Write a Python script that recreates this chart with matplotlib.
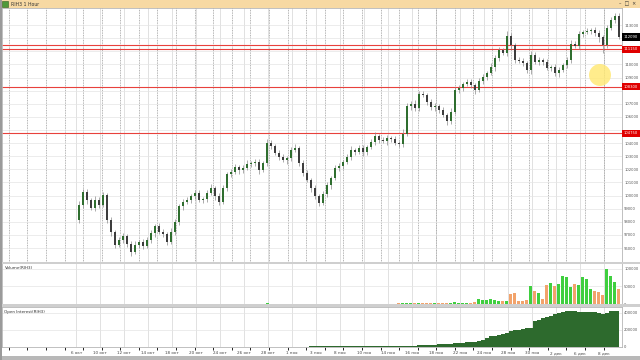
import numpy as np
import matplotlib.pyplot as plt
from matplotlib.ticker import MultipleLocator, FixedLocator
from matplotlib.patches import Rectangle, Ellipse
from matplotlib.transforms import blended_transform_factory

# hourly candles (aggregated)
first_open = 98140
closes = [
    99280, 100270, 99660, 99060, 99660, 99280, 100050, 98140, 97230, 96240,
    96620, 96920, 96310, 95700, 96240, 96460, 96160, 96620, 97150, 97680,
    97230, 97070, 96460, 97230, 97990, 99210, 99510, 99660, 99970, 100200,
    99660, 99740, 100200, 100580, 99970, 99510, 100580, 101650, 101800, 102180,
    101950, 102100, 102410, 102480, 102560, 101950, 102480, 104010, 103780, 103250,
    102940, 102710, 102870, 103480, 103630, 102480, 101720, 101190, 100580, 99970,
    99440, 100120, 100810, 101340, 102100, 102260, 102560, 102940, 103480, 103320,
    103630, 103320, 103700, 104090, 104540, 104240, 104160, 104390, 104310, 104010,
    103930, 104690, 106830, 106980, 106680, 107740, 107670, 107130, 106750, 106830,
    106520, 106140, 105690, 106370, 108050, 108200, 108500, 108660, 108430, 108050,
    108730, 109040, 109340, 109800, 110490, 111100, 110870, 112160, 111480, 110330,
    110260, 110100, 109570, 110710, 110180, 110330, 110180, 109720, 109800, 109340,
    109570, 109950, 110330, 111550, 111400, 112310, 112470, 112540, 112620, 112390,
    112090, 111480, 112770, 113380, 113690, 112090,
]
wick_up = [
    300, 250, 200, 150, 300, 200, 250, 150, 200, 150,
    200, 250, 150, 200, 300, 150, 200, 250, 200, 150,
    250, 200, 150, 300, 200, 150, 250, 200, 150, 200,
    250, 150, 200, 300, 150, 200, 250, 150, 200, 250,
    150, 200, 300, 150, 200, 250, 150, 300, 200, 150,
    200, 250, 150, 200, 300, 150, 200, 250, 150, 200,
    150, 250, 200, 150, 200, 250, 150, 200, 300, 150,
    200, 250, 150, 200, 300, 150, 200, 250, 150, 200,
    150, 350, 250, 200, 300, 250, 200, 150, 200, 250,
    150, 200, 150, 300, 250, 200, 150, 250, 200, 150,
    200, 250, 150, 300, 250, 200, 150, 350, 200, 150,
    250, 200, 150, 300, 200, 250, 150, 200, 150, 250,
    200, 150, 250, 300, 200, 250, 150, 200, 150, 200,
    250, 150, 200, 250, 200, 200,
]
wick_dn = [
    250, 200, 300, 150, 200, 250, 150, 200, 300, 250,
    150, 200, 250, 300, 150, 200, 250, 150, 200, 300,
    150, 250, 200, 150, 250, 200, 300, 150, 200, 250,
    150, 200, 250, 150, 300, 200, 150, 250, 200, 150,
    300, 200, 150, 250, 200, 300, 150, 200, 250, 150,
    200, 150, 300, 250, 150, 200, 250, 150, 300, 200,
    250, 150, 200, 300, 150, 250, 200, 150, 200, 250,
    150, 300, 200, 150, 250, 200, 150, 300, 200, 150,
    250, 200, 150, 300, 200, 250, 150, 200, 250, 300,
    200, 150, 300, 250, 150, 200, 250, 150, 200, 300,
    150, 200, 250, 150, 300, 200, 150, 250, 300, 200,
    150, 250, 200, 300, 150, 200, 250, 150, 200, 250,
    300, 150, 200, 250, 150, 200, 250, 150, 200, 250,
    400, 600, 200, 150, 200, 150,
]
volumes = [
    400, 300, 500, 200, 300, 600, 300, 900, 700, 500,
    400, 300, 500, 800, 400, 300, 500, 400, 300, 600,
    400, 300, 500, 700, 600, 800, 500, 400, 300, 500,
    400, 600, 500, 400, 700, 900, 600, 500, 400, 500,
    600, 500, 400, 700, 600, 500, 800, 1500, 900, 700,
    600, 500, 700, 800, 600, 900, 1000, 800, 900, 1100,
    1400, 1000, 900, 800, 1200, 1000, 900, 1100, 1000, 800,
    900, 1000, 1200, 1100, 1300, 1000, 900, 1100, 1000, 1200,
    1500, 4000, 3500, 2500, 2000, 3000, 2500, 2000, 1800, 2200,
    2500, 2000, 3500, 3000, 5000, 4000, 3000, 3500, 3000, 4500,
    14000, 12000, 10000, 13000, 11000, 9000, 8000, 9000, 28000, 30000,
    9000, 8000, 10000, 50000, 37000, 30000, 14000, 55000, 60000, 52000,
    58000, 80000, 76000, 48000, 58000, 55000, 78000, 70000, 42000, 37000,
    35000, 25000, 100000, 80000, 62000, 42000,
]
open_interest = [
    300, 400, 400, 500, 600, 600, 700, 900, 900, 1000,
    1100, 1100, 1200, 1300, 1300, 1400, 1500, 1500, 1600, 1700,
    1800, 1800, 1900, 2000, 2100, 2100, 2200, 2300, 2400, 2400,
    2500, 2600, 2700, 2800, 2800, 2900, 3000, 3100, 3200, 3300,
    3300, 3400, 3500, 3600, 3700, 3800, 3900, 4200, 4300, 4400,
    4500, 4600, 4700, 4800, 4900, 5000, 5300, 5600, 6000, 6300,
    6500, 6800, 7000, 7300, 7600, 7800, 8000, 8300, 8600, 8800,
    9000, 9300, 9600, 9800, 10000, 10300, 10600, 11000, 11300, 11600,
    12000, 13000, 14000, 15000, 16000, 18000, 20000, 22000, 24000, 27000,
    30000, 32000, 35000, 38000, 42000, 47000, 50000, 53000, 56000, 60000,
    70000, 85000, 110000, 130000, 135000, 141000, 150000, 170000, 188000, 195000,
    200000, 210000, 218000, 224000, 306000, 320000, 340000, 353000, 370000, 390000,
    400000, 410000, 424000, 420000, 418000, 412000, 414000, 410000, 412000, 408000,
    400000, 388000, 405000, 418000, 424000, 422000,
]
levels = [111500, 111150, 108300, 104750]
price_ticks = list(range(96000, 114000, 1000))
date_labels = ["6 окт", "10 окт", "12 окт", "14 окт", "18 окт", "20 окт", "24 окт",
               "26 окт", "28 окт", "1 ноя", "3 ноя", "8 ноя", "10 ноя", "14 ноя",
               "16 ноя", "18 ноя", "22 ноя", "24 ноя", "28 ноя", "30 ноя", "2 дек",
               "6 дек", "8 дек"]
symbol = "RIH3"

opens = [first_open] + closes[:-1]
n = len(closes)
x = np.arange(n)
up = np.array(closes) >= np.array(opens)
highs = [max(o, c) + w for o, c, w in zip(opens, closes, wick_up)]
lows = [min(o, c) - w for o, c, w in zip(opens, closes, wick_dn)]

fig = plt.figure(figsize=(6.4, 3.6), dpi=100)
fig.patch.set_facecolor('white')

ax = fig.add_axes((2/640, 1-262/360, 620/640, 254/360))
ax_v = fig.add_axes((2/640, 1-304/360, 620/640, 41/360), sharex=ax)
ax_oi = fig.add_axes((2/640, 1-347/360, 620/640, 40/360), sharex=ax)

xlim = (-19.3, 135.8)
tick_pos = [-0.75 + 6*k for k in range(len(date_labels))]

for a in (ax, ax_v, ax_oi):
    a.set_facecolor('white')
    for s in a.spines.values():
        s.set_color('#b5b5b5')
        s.set_linewidth(0.6)
    a.yaxis.tick_right()
    a.tick_params(axis='y', length=0, labelsize=2.7, pad=1.5, colors='#555555')
    a.tick_params(axis='x', length=0, labelbottom=False)
    a.xaxis.set_major_locator(FixedLocator(tick_pos))
    a.grid(axis='x', which='major', color='#d4d4d4', lw=0.5)
    a.grid(axis='y', color='#e4e4e4', lw=0.5)
    a.set_axisbelow(True)

# price panel
ax.xaxis.set_minor_locator(MultipleLocator(4.65, offset=1))
ax.grid(axis='x', which='minor', color='#9a9a9a', lw=0.6, ls=(0, (1, 1)))
ax.tick_params(axis='x', which='minor', length=0)
ax.vlines(x, lows, highs, color='#8c8c8c', lw=0.5, zorder=2)
ax.bar(x, np.array(closes) - np.array(opens), bottom=opens, width=0.55,
       color=np.where(up, '#2f6e2f', '#3d3d3d'), zorder=3)
for lv in levels:
    ax.plot(xlim, [lv, lv], color='#e8413c', lw=0.8, zorder=1.5)
ax.set_ylim(94940, 114300)
ax.set_yticks(price_ticks)
# labels hidden behind the level / last-price boxes
covered = {111000, 112000, 108000, 105000}
ax.set_yticklabels(['' if t in covered else str(t) for t in price_ticks])
ax.set_xlim(*xlim)

tr = blended_transform_factory(ax.transAxes, ax.transData)
for lv in levels[1:]:
    ax.text(1.003, lv, str(lv), transform=tr, fontsize=2.7, color='white', va='center',
            ha='left', bbox=dict(boxstyle='square,pad=0.45', fc='#e00000', ec='none'), zorder=5)
ax.text(1.003, closes[-1], str(closes[-1]), transform=tr, fontsize=2.7, color='white',
        va='center', ha='left', bbox=dict(boxstyle='square,pad=0.45', fc='black', ec='none'), zorder=5)

# volume panel
ax_v.bar(x, volumes, width=0.75, color=np.where(up, '#3fcf3f', '#f2a36b'), zorder=3)
ax_v.set_ylim(0, 117000)
ax_v.set_yticks([0, 50000, 100000])
ax_v.set_yticklabels(['0', '50000', '100000'])
ax_v.text(0.004, 0.93, f'Volume({symbol})', transform=ax_v.transAxes, fontsize=3,
          va='top', color='#333333')

# open interest panel
ax_oi.fill_between(x, open_interest, step='mid', color='#2d6a2d', lw=0, zorder=3)
ax_oi.set_ylim(0, 470000)
ax_oi.set_yticks([0, 200000, 400000])
ax_oi.set_yticklabels(['0', '200000', '400000'])
ax_oi.text(0.004, 0.93, f'Open Interest({symbol})', transform=ax_oi.transAxes, fontsize=3,
           va='top', color='#333333')
ax_oi.tick_params(axis='x', labelbottom=True, labelsize=3, pad=3, colors='#444444')
ax_oi.set_xticklabels(date_labels)
ax_oi.set_xlim(*xlim)

# window chrome
fig.patches.append(Rectangle((0, 1-8/360), 1, 8/360, transform=fig.transFigure,
                             fc='#f7d9a3', ec='none', zorder=0))
fig.patches.append(Rectangle((2/640, 1-7/360), 6/640, 6/360, transform=fig.transFigure,
                             fc='#4f9a3a', ec='#2f5f22', lw=0.4))
fig.text(11/640, 1-4/360, f'{symbol} 1 Hour', fontsize=3.3, va='center', color='#333333')
fig.text(636/640, 1-4/360, '–  □  ×', fontsize=3.5, va='center', ha='right', color='#333333')
for y0, h in ((262, 2), (304, 3)):
    fig.patches.append(Rectangle((0, 1-(y0+h)/360), 1, h/360, transform=fig.transFigure,
                                 fc='#cfcfcf', ec='none'))
fig.patches.append(Rectangle((0, 0), 1, 4/360, transform=fig.transFigure, fc='#b8b8b8', ec='none'))
fig.patches.append(Rectangle((0, 0), 2/640, 1, transform=fig.transFigure, fc='#9a9a9a', ec='none'))
fig.patches.append(Ellipse((600/640, 1-75/360), 22/640, 22/360, transform=fig.transFigure,
                           fc='#ffe978', ec='none', alpha=0.85, zorder=10))

fig.savefig('out.png', dpi=100)
